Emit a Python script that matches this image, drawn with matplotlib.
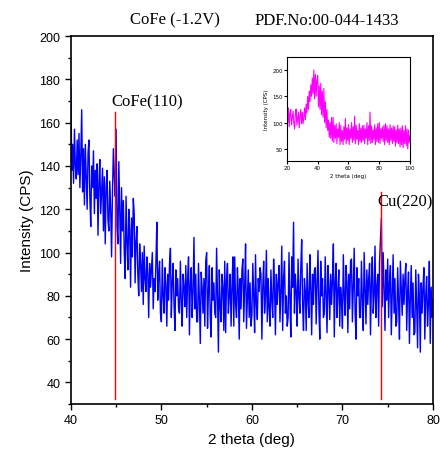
import numpy as np
import matplotlib.pyplot as plt
from matplotlib.ticker import MultipleLocator

# main pattern, 2 theta from 40 to 80 in 0.1 deg steps
two_theta = np.arange(0, 401) * 0.1 + 40.0
intensity = [
    176, 138, 150, 132, 157, 140, 134, 152, 136, 155,
    130, 145, 166, 128, 148, 122, 150, 135, 120, 146,
    152, 125, 112, 140, 130, 147, 118, 138, 125, 141,
    108, 132, 143, 118, 128, 139, 110, 135, 104, 130,
    138, 115, 110, 133, 120, 98, 128, 148, 135, 126,
    157, 112, 104, 142, 120, 95, 130, 110, 124, 100,
    88, 126, 105, 92, 120, 110, 84, 116, 98, 125,
    118, 86, 105, 112, 90, 80, 104, 95, 82, 100,
    76, 103, 88, 82, 98, 90, 70, 95, 84, 92,
    100, 74, 88, 82, 96, 114, 78, 90, 96, 72,
    68, 97, 80, 72, 93, 85, 66, 90, 78, 95,
    102, 70, 86, 95, 76, 64, 92, 80, 88, 74,
    72, 96, 78, 66, 90, 84, 75, 94, 70, 88,
    98, 62, 85, 93, 70, 82, 107, 74, 90, 68,
    68, 95, 78, 58, 91, 84, 72, 88, 66, 96,
    100, 65, 82, 94, 70, 61, 93, 78, 86, 72,
    70, 102, 80, 54, 92, 75, 68, 90, 84, 64,
    96, 63, 88, 95, 72, 80, 90, 66, 84, 98,
    66, 98, 76, 70, 93, 82, 60, 88, 74, 92,
    97, 68, 84, 104, 65, 78, 92, 70, 86, 66,
    71, 95, 80, 63, 99, 76, 69, 88, 82, 93,
    90, 60, 84, 96, 72, 80, 101, 68, 88, 74,
    66, 92, 78, 70, 97, 84, 62, 90, 76, 86,
    94, 68, 82, 103, 64, 88, 96, 72, 80, 66,
    70, 100, 78, 61, 98, 84, 114, 72, 90, 82,
    66, 97, 80, 72, 93, 106, 76, 64, 88, 82,
    64, 95, 78, 70, 99, 84, 62, 90, 76, 92,
    93, 67, 86, 101, 74, 60, 96, 80, 88, 70,
    72, 98, 80, 63, 94, 84, 69, 90, 76, 88,
    104, 61, 86, 95, 70, 82, 92, 66, 84, 78,
    65, 99, 80, 71, 94, 86, 63, 90, 74, 96,
    97, 68, 84, 102, 72, 60, 93, 80, 88, 70,
    70, 96, 78, 64, 100, 84, 67, 92, 76, 88,
    95, 62, 86, 98, 72, 80, 103, 70, 84, 90,
    66, 96, 106, 116, 75, 100, 84, 64, 92, 78,
    97, 70, 86, 94, 62, 80, 99, 72, 88, 66,
    68, 93, 78, 60, 96, 84, 71, 90, 76, 88,
    95, 64, 82, 91, 58, 78, 94, 70, 86, 62,
    63, 92, 76, 56, 90, 80, 54, 86, 72, 84,
    93, 60, 80, 89, 66, 76, 96, 58, 84, 70,
    78,
]

# inset: full scan 20-100 deg, 0.5 deg steps
inset_theta = np.arange(0, 161) * 0.5 + 20.0
inset_intensity = [
    135, 100, 128, 92, 118, 125, 96, 110, 122, 100,
    88, 115, 126, 95, 108, 120, 90, 112, 125, 98,
    120, 98, 110, 128, 105, 135, 118, 150, 125, 160,
    140, 172, 150, 185, 155, 200, 145, 192, 150, 180,
    190, 130, 170, 125, 175, 115, 160, 110, 165, 100,
    140, 90, 125, 85, 105, 72, 100, 70, 110, 65,
    110, 62, 95, 70, 98, 60, 88, 72, 100, 58,
    95, 64, 85, 58, 92, 68, 108, 60, 90, 66,
    96, 58, 88, 70, 100, 62, 92, 66, 112, 60,
    95, 68, 85, 58, 98, 64, 90, 62, 94, 66,
    95, 60, 88, 70, 100, 58, 94, 66, 120, 60,
    94, 62, 86, 68, 96, 58, 90, 64, 98, 62,
    100, 60, 88, 70, 92, 64, 95, 58, 98, 66,
    94, 62, 88, 58, 96, 66, 90, 60, 94, 64,
    92, 55, 86, 62, 95, 60, 88, 54, 90, 58,
    94, 52, 85, 60, 94, 56, 88, 50, 86, 62,
    75,
]

peak_pos = [44.9, 74.25]
peak_top = [165, 128]
peak_labels = ['CoFe(110)', 'Cu(220)']

fig = plt.figure(figsize=(4.4, 4.64), dpi=100)
ax = fig.add_axes([0.161, 0.127, 0.823, 0.793])
ax.plot(two_theta, intensity, color='#0000ff', lw=1.0)
for p, t in zip(peak_pos, peak_top):
    ax.plot([p, p], [32.5, t], color='red', lw=1.0)

ax.text(44.5, 166, peak_labels[0], family='Liberation Serif', fontsize=12, va='bottom')
ax.text(73.9, 120, peak_labels[1], family='Liberation Serif', fontsize=12, va='bottom')

ax.set_xlim(40, 80)
ax.set_ylim(30, 200)
ax.xaxis.set_major_locator(MultipleLocator(10))
ax.xaxis.set_minor_locator(MultipleLocator(5))
ax.yaxis.set_major_locator(MultipleLocator(20))
ax.yaxis.set_minor_locator(MultipleLocator(10))
ax.tick_params(direction='out', length=4, width=1, labelsize=9)
ax.tick_params(which='minor', direction='out', length=2.5, width=1)
for lab in ax.get_xticklabels() + ax.get_yticklabels():
    lab.set_family('Liberation Sans')
for s in ax.spines.values():
    s.set_linewidth(1.2)
ax.set_xlabel('2 theta (deg)', family='Liberation Sans', fontsize=11)
ax.set_ylabel('Intensity (CPS)', family='Liberation Sans', fontsize=11)

fig.text(0.398, 0.955, 'CoFe (-1.2V)', family='Liberation Serif', fontsize=12, ha='center', va='center')
fig.text(0.742, 0.955, 'PDF.No:00-044-1433', family='Liberation Serif', fontsize=12, ha='center', va='center')

# inset
ins = fig.add_axes([0.652, 0.651, 0.280, 0.224])
ins.plot(inset_theta, inset_intensity, color='#ff00ff', lw=0.8)
ins.set_xlim(20, 100)
ins.set_ylim(27, 225)
ins.set_xticks([20, 40, 60, 80, 100])
ins.set_yticks([50, 100, 150, 200])
ins.tick_params(direction='out', length=2, width=0.8, labelsize=4, pad=1)
ins.set_xlabel('2 theta (deg)', fontsize=4, labelpad=2)
ins.set_ylabel('Intensity (CPS)', fontsize=4, labelpad=2)
for s in ins.spines.values():
    s.set_linewidth(0.8)

plt.savefig('out.png', dpi=100)
